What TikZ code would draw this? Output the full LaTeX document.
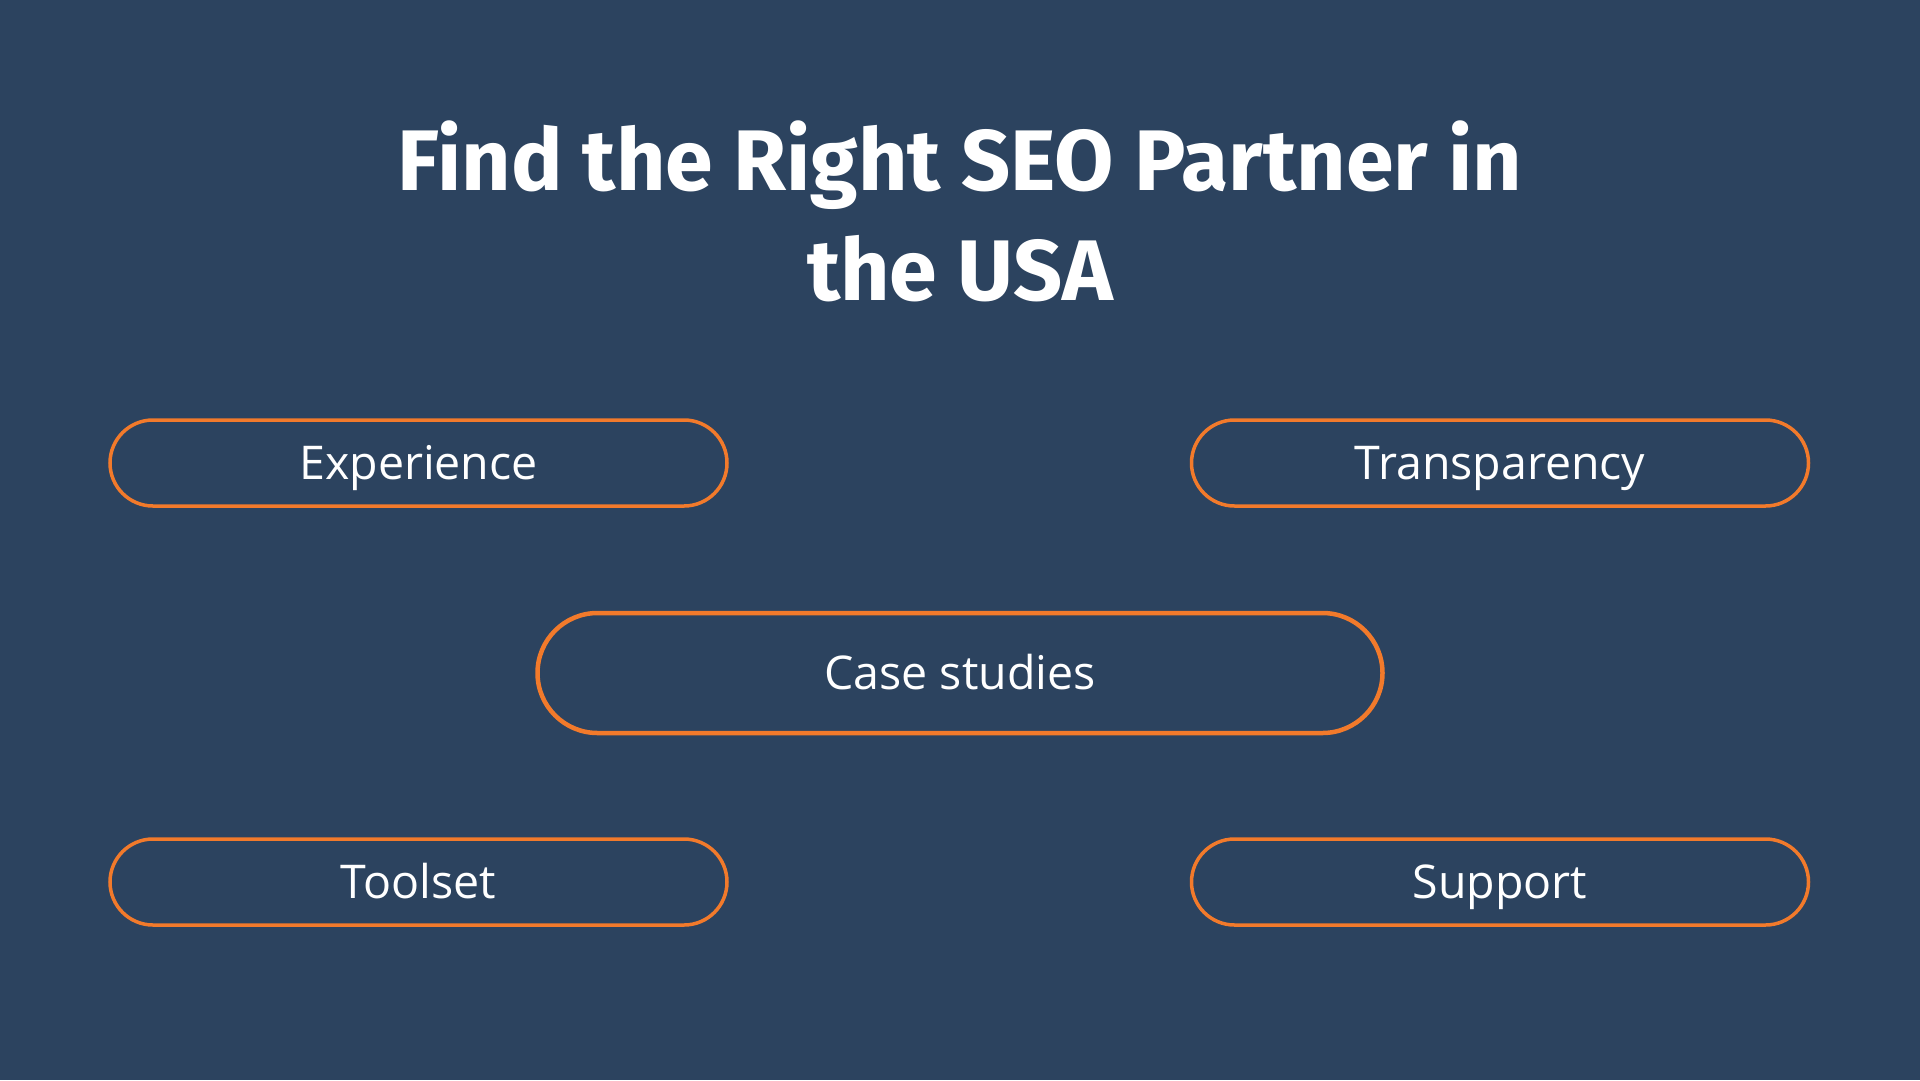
\documentclass[tikz,border=0pt]{standalone}
\usepackage{fontspec}
\setmainfont{Open Sans}
\newfontfamily\titlefont{Fira Sans}[UprightFont=*-Bold]
\definecolor{bg}{HTML}{2C435F}
\definecolor{orng}{HTML}{F27A2B}
\begin{document}
\begin{tikzpicture}[x=1pt,y=-1pt,
  pill/.style={draw=orng, line width=3.5pt, rounded corners=43pt, minimum width=617pt, minimum height=86pt, inner sep=0pt, text=white, text height=32pt, text depth=0pt, font=\fontsize{46.5}{50}\selectfont},
  bigpill/.style={pill, line width=4.5pt, rounded corners=60pt, minimum width=845pt, minimum height=120pt}]
\fill[bg] (0,0) rectangle (1920,1080);
\useasboundingbox (0,0) rectangle (1920,1080);
\node[text=white, font=\titlefont\fontsize{86}{110}\selectfont, align=center, anchor=north] (title) at (960,117) {Find the Right SEO Partner in\\the USA};
\node[pill] (exp) at (418.5,463) {Experience};
\node[pill] (tra) at (1500,463) {Transparency};
\node[bigpill] (case) at (960,673) {Case studies};
\node[pill] (tool) at (418.5,882) {Toolset};
\node[pill] (sup) at (1500,882) {Support};
\end{tikzpicture}
\end{document}
